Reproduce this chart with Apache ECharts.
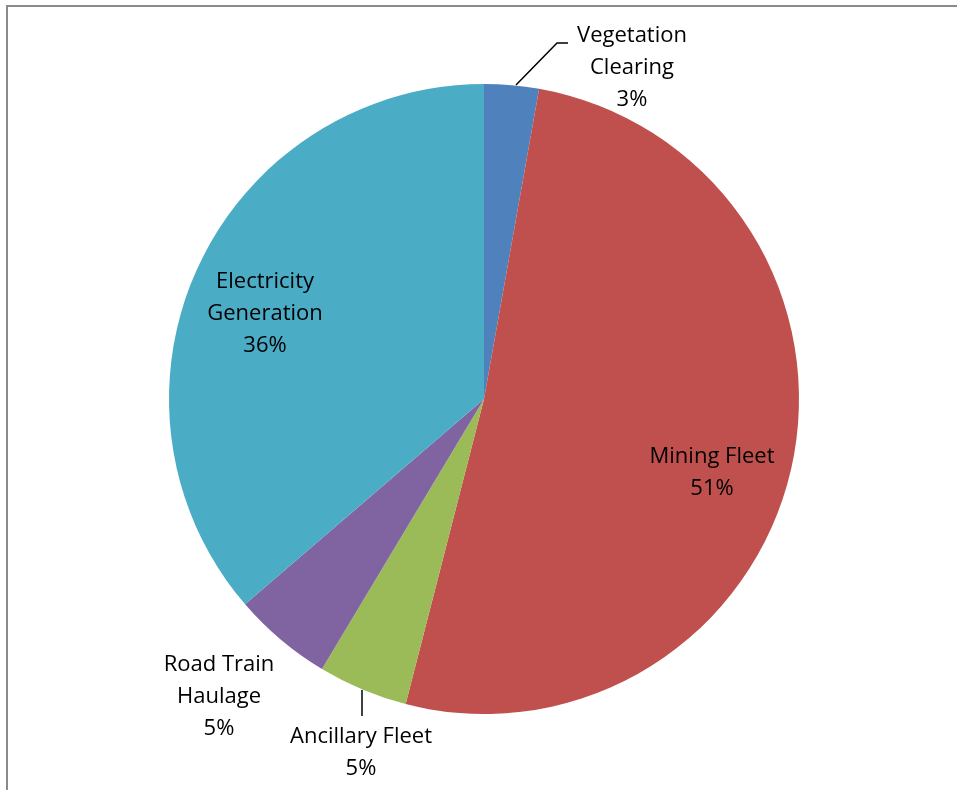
<!DOCTYPE html>
<html>
<head>
<meta charset="utf-8">
<script src="https://cdn.jsdelivr.net/npm/echarts@6/dist/echarts.min.js"></script>
<style>
html,body{margin:0;padding:0;background:#fff;}
#chart{width:957px;height:790px;}
</style>
</head>
<body>
<div id="chart"></div>
<script>
const categories = ['Vegetation Clearing', 'Mining Fleet', 'Ancillary Fleet', 'Road Train Haulage', 'Electricity Generation'];
const labelNames = ['Vegetation\nClearing', 'Mining Fleet', 'Ancillary Fleet', 'Road Train\nHaulage', 'Electricity\nGeneration'];
const values = [2.8, 51.2, 4.6, 5.1, 36.3];
const colors = ['#4F81BD', '#C0504D', '#9BBB59', '#8064A2', '#4BACC6'];

const chart = echarts.init(document.getElementById('chart'), null, {renderer: 'canvas'});

const labelPos = {
  0: {x: 632, y: 68, line: [[516, 85], [557, 43], [568, 43]]},
  1: {x: 712, y: 473},
  2: {x: 361, y: 753, line: [[362, 690], [362, 703], [362, 716]]},
  3: {x: 219, y: 697},
  4: {x: 265, y: 314}
};

chart.setOption({
  animation: false,
  backgroundColor: '#ffffff',
  graphic: [{
    type: 'rect',
    shape: {x: 7, y: 6, width: 1200, height: 1200},
    style: {fill: 'none', stroke: '#8a8a8a', lineWidth: 2},
    z: 100
  }],
  series: [{
    type: 'pie',
    center: [484, 399],
    radius: [0, 315],
    startAngle: 90,
    clockwise: true,
    percentPrecision: 0,
    avoidLabelOverlap: false,
    itemStyle: {borderWidth: 0},
    label: {
      show: true,
      position: 'outside',
      formatter: function (p) { return labelNames[p.dataIndex] + '\n' + Math.round(p.percent) + '%'; },
      color: '#000',
      fontFamily: '"Open Sans", sans-serif',
      fontSize: 22,
      lineHeight: 32,
      align: 'center'
    },
    labelLine: {show: true, lineStyle: {color: '#000', width: 1.5}},
    labelLayout: function (params) {
      const p = labelPos[params.dataIndex];
      const out = {x: p.x, y: p.y, align: 'center', verticalAlign: 'middle'};
      if (p.line) out.labelLinePoints = p.line;
      return out;
    },
    data: categories.map(function (c, i) {
      const hasLine = !!labelPos[i].line;
      return {
        name: c,
        value: values[i],
        itemStyle: {color: colors[i]},
        labelLine: {show: hasLine}
      };
    })
  }]
});
</script>
</body>
</html>
